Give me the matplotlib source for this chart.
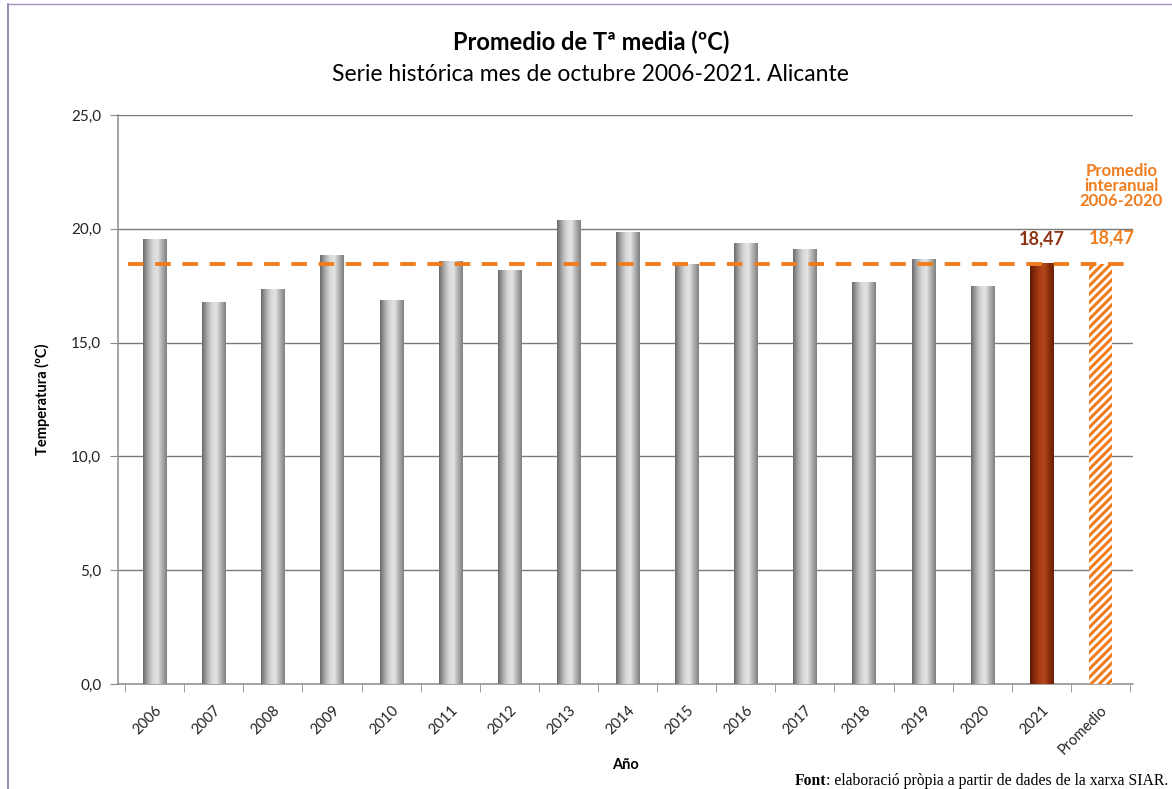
import matplotlib
matplotlib.use("Agg")
import matplotlib.pyplot as plt
import numpy as np
from matplotlib.colors import LinearSegmentedColormap

plt.rcParams['font.family'] = ['Lato', 'DejaVu Sans']
plt.rcParams['hatch.linewidth'] = 2.2

# Data
years = ['2006', '2007', '2008', '2009', '2010', '2011', '2012', '2013',
         '2014', '2015', '2016', '2017', '2018', '2019', '2020', '2021', 'Promedio']
temps = [19.55, 16.75, 17.35, 18.83, 16.83, 18.58, 18.15, 20.37,
         19.84, 18.42, 19.37, 19.08, 17.65, 18.67, 17.45, 18.47, 18.47]
average = 18.47
yticks = [0, 5, 10, 15, 20, 25]

ORANGE = '#ef7d1e'
BROWN = '#8c3414'

fig = plt.figure(figsize=(11.72, 7.89), dpi=100)
ax = fig.add_axes([0.1007, 0.1331, 0.866, 0.7211])

gray_cmap = LinearSegmentedColormap.from_list(
    'cyl', ['#6a6a6a', '#a8a8a8', '#d6d6d6', '#e4e4e4', '#b0b0b0', '#808080'])
red_cmap = LinearSegmentedColormap.from_list(
    'cylr', ['#5e1a06', '#8a2c0c', '#a83c12', '#b4461a', '#8e2e0c', '#6a2008'])
grad = np.linspace(0, 1, 64).reshape(1, -1)

width = 0.39
x = np.arange(len(years))
for i, (yr, t) in enumerate(zip(years, temps)):
    if yr == 'Promedio':
        ax.bar(i, t, width=width, color='white', edgecolor=ORANGE,
               hatch='////', linewidth=0, zorder=3)
    else:
        cmap = red_cmap if yr == '2021' else gray_cmap
        ax.imshow(grad, cmap=cmap, aspect='auto', zorder=3,
                  extent=(i - width / 2, i + width / 2, 0, t))

ax.set_xlim(-0.62, 16.55)
ax.set_ylim(0, 25)

# gridlines
for yt in yticks[1:]:
    ax.axhline(yt, color='#7a7a7a', lw=1.0, zorder=1)

# average dashed line
ax.axhline(average, xmin=0.01, color=ORANGE, lw=2.8, dashes=(4, 3), zorder=4)

for sp in ['top', 'right']:
    ax.spines[sp].set_visible(False)
for sp in ['left', 'bottom']:
    ax.spines[sp].set_color('#8c8c8c')
    ax.spines[sp].set_linewidth(1.1)

ax.set_yticks(yticks)
ax.set_yticklabels([f'{v:.1f}'.replace('.', ',') for v in yticks],
                   fontsize=11, color='#222222')
ax.tick_params(axis='y', length=6, color='#8c8c8c', pad=6)

ax.set_xticks(x)
ax.set_xticklabels(years, rotation=45, ha='right', rotation_mode='anchor',
                   fontsize=10.5, color='#222222')
ax.tick_params(axis='x', which='major', length=0, pad=14)
ax.set_xticks(np.arange(-0.5, len(years), 1.0), minor=True)
ax.tick_params(axis='x', which='minor', length=6, color='#8c8c8c')

ax.set_ylabel('Temperatura (ºC)', fontsize=10.5, fontweight='bold', labelpad=15)
ax.set_xlabel('Año', fontsize=10.5, fontweight='bold', labelpad=0)

# value labels
ax.text(15, temps[15] + 0.7, '18,47', color=BROWN, fontsize=13,
        fontweight='bold', ha='center', va='bottom')
ax.text(16.2, temps[16] + 0.75, '18,47', color=ORANGE, fontsize=13,
        fontweight='bold', ha='center', va='bottom')
ax.text(16.35, 20.85, 'Promedio\ninteranual\n2006-2020', color=ORANGE,
        fontsize=12, fontweight='bold', ha='center', va='bottom',
        linespacing=0.95)

fig.text(0.504, 0.947, 'Promedio de Tª media (ºC)', ha='center', va='center',
         fontsize=17, fontweight='bold')
fig.text(0.504, 0.906, 'Serie histórica mes de octubre 2006-2021. Alicante',
         ha='center', va='center', fontsize=16.5)

# footer
foot = fig.text(0.997, 0.005, ': elaboració pròpia a partir de dades de la xarxa SIAR.',
                ha='right', va='baseline', fontsize=11.3, family='Liberation Serif')
renderer = fig.canvas.get_renderer()
bb = foot.get_window_extent(renderer)
fig.text(bb.x0 / fig.bbox.width, 0.005, 'Font', ha='right', va='baseline',
         fontsize=11.3, fontweight='bold', family='Liberation Serif')

# frame lines
fig.add_artist(plt.Line2D([0.007, 0.007], [0, 0.995], color='#8a72aa', lw=1.2))
fig.add_artist(plt.Line2D([0.007, 1.0], [0.995, 0.995], color='#a690c0', lw=1.0))

fig.savefig('out.png', dpi=100)
